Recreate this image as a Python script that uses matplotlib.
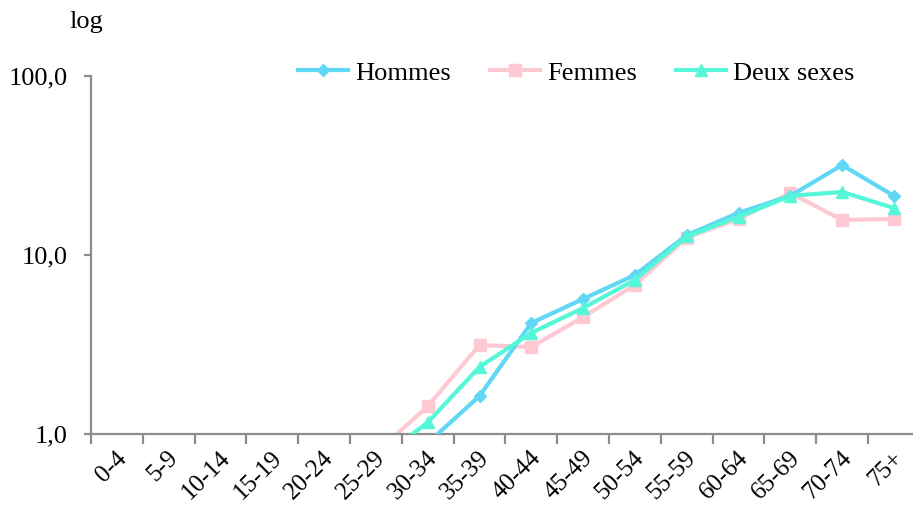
import numpy as np
import matplotlib
matplotlib.use("Agg")
import matplotlib.pyplot as plt
import matplotlib.transforms as mtransforms

plt.rcParams['font.family'] = ['Liberation Serif', 'DejaVu Serif']

ages = ["0-4", "5-9", "10-14", "15-19", "20-24", "25-29", "30-34", "35-39",
        "40-44", "45-49", "50-54", "55-59", "60-64", "65-69", "70-74", "75+"]
nan = np.nan
hommes = [nan, nan, nan, nan, nan, 0.5, 0.89, 1.63, 4.17, 5.68, 7.73, 12.9, 17.2, 21.4, 31.8, 21.4]
femmes = [nan, nan, nan, nan, nan, 0.78, 1.43, 3.14, 3.06, 4.5, 6.8, 12.5, 15.9, 22.2, 15.7, 15.9]
deux = [nan, nan, nan, nan, nan, 0.70, 1.16, 2.37, 3.67, 5.06, 7.25, 12.7, 16.3, 21.4, 22.5, 18.3]

c_h = "#5fd7f5"
c_f = "#ffc9d3"
c_d = "#55f7d8"
axis_c = "#8c8c8c"

fig = plt.figure(figsize=(9.13, 5.08), dpi=100)
W, H = 913.0, 508.0
left, right = 91 / W, (91 + 16 * 51.8) / W
bottom, top = (H - 434) / H, (H - 76) / H
ax = fig.add_axes([left, bottom, right - left, top - bottom])

x = np.arange(len(ages))
lw = 3.0
lh, = ax.plot(x, hommes, color=c_h, lw=lw, marker="D", ms=6.5, zorder=3,
              label="Hommes")
lf, = ax.plot(x, femmes, color=c_f, lw=lw, marker="s", ms=8, zorder=2,
              label="Femmes")
ld, = ax.plot(x, deux, color=c_d, lw=lw, marker="^", ms=8.5, zorder=4,
              label="Deux sexes")

ax.set_yscale("log")
ax.set_ylim(1, 100)
ax.set_xlim(-0.5, len(ages) - 0.5)

for s in ["top", "right"]:
    ax.spines[s].set_visible(False)
for s in ["left", "bottom"]:
    ax.spines[s].set_color(axis_c)
    ax.spines[s].set_linewidth(1.6)

fs = 19
ax.set_yticks([1, 10, 100])
ax.set_yticklabels(["1,0", "10,0", "100,0"], fontsize=fs)
ax.yaxis.set_minor_locator(matplotlib.ticker.NullLocator())
ax.tick_params(axis="y", which="major", direction="out", length=5, width=1.6,
               color=axis_c, pad=12)

ax.set_xticks(np.arange(-0.5, len(ages), 1.0), minor=True)
ax.set_xticks(x)
ax.tick_params(axis="x", which="minor", direction="out", length=7, width=1.6,
               color=axis_c)
ax.tick_params(axis="x", which="major", length=0, pad=15)
ax.set_xticklabels(ages, fontsize=18, rotation=45, ha="right",
                   rotation_mode="anchor", va="center")
offset = mtransforms.ScaledTranslation(6 / 100, 0, fig.dpi_scale_trans)
for lab in ax.get_xticklabels():
    lab.set_transform(lab.get_transform() + offset)

fig.text(86 / W, 1 - 22 / H, "log", fontsize=fs, ha="center", va="center")

fig.legend(handles=[lh, lf, ld], loc="center left",
           bbox_to_anchor=(298 / W, 1 - 73 / H), ncol=3, frameon=False,
           fontsize=fs, handlelength=1.9, handletextpad=0.25,
           columnspacing=1.5, borderaxespad=0, borderpad=0)

fig.savefig("out.png", dpi=100)
